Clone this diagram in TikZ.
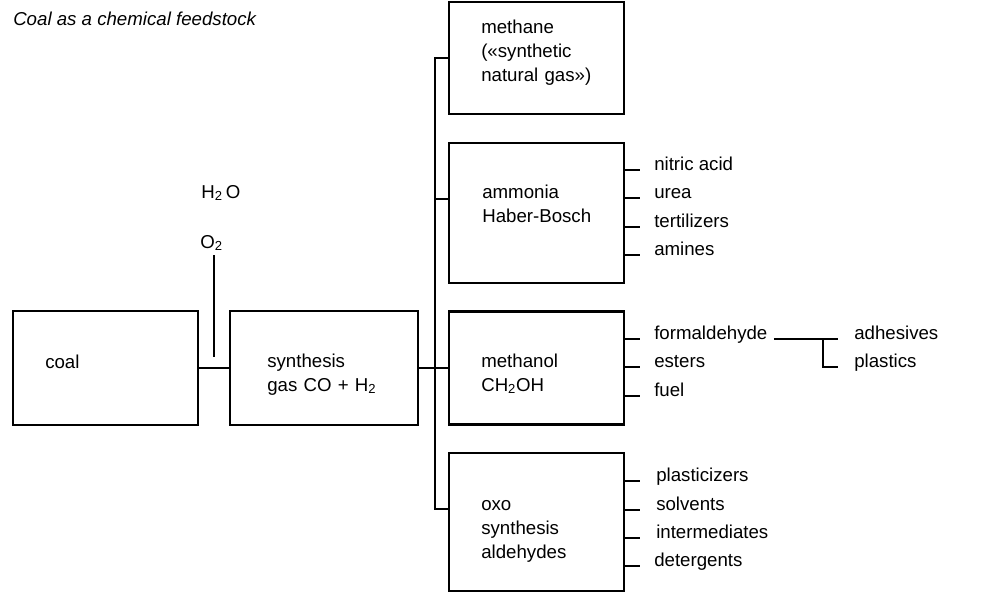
\documentclass[tikz,border=0pt]{standalone}
\usepackage{fontspec}
\setmainfont{Liberation Sans}
\usepackage{tikz}

\begin{document}
\begin{tikzpicture}[x=0.75pt,y=0.75pt,yscale=-1,xscale=1,
  line width=1.9pt,
  box/.style={draw,rectangle,minimum width=#1,inner sep=0pt},
  boxtxt/.style={anchor=base west,inner sep=0pt,text width=140pt,align=left,font=\fontsize{14}{18}\selectfont},
  item/.style={anchor=base west,inner sep=0pt,font=\fontsize{14}{18}\selectfont}]
\path[use as bounding box] (0,0) rectangle (992,594);

%Title
\node[item,font=\fontsize{14}{18}\selectfont\itshape] (title) at (12,25) {Coal as a chemical feedstock};

%Shape: Rectangle [id:coal]
\node[box=185*0.75pt,minimum height=114*0.75pt] (coal) at (105.5,368) {};
\node[boxtxt] (coaltxt) at (44,368) {coal};
%Shape: Rectangle [id:synth]
\node[box=188*0.75pt,minimum height=114*0.75pt] (synth) at (324,368) {};
\node[boxtxt] (synthtxt) at (266,367) {synthesis\\gas CO + H\textsubscript{2}};

%Feed H2O / O2
\node[item] (h2o) at (200,198) {H\textsubscript{2}\,O};
\node[item] (o2) at (199,248) {O\textsubscript{2}};
\coordinate (feed) at (214,357);
\draw (o2.south -| feed) ++(0,3) -- (feed);

%Shape: Rectangle [id:methane]
\node[box=175*0.75pt,minimum height=112*0.75pt] (methane) at (536.5,58) {};
\node[boxtxt] (methanetxt) at (480,33) {methane\\(«synthetic\\natural gas»)};
%Shape: Rectangle [id:ammonia]
\node[box=175*0.75pt,minimum height=140*0.75pt] (ammonia) at (536.5,213) {};
\node[boxtxt] (ammoniatxt) at (481,198) {ammonia\\Haber-Bosch};
%Shape: Rectangle [id:methanol]
\node[box=175*0.75pt,minimum height=113*0.75pt] (methanol) at (536.5,368) {};
\node[boxtxt] (methanoltxt) at (480,367) {methanol\\CH\textsubscript{2}OH};
%Shape: Rectangle [id:oxo]
\node[box=175*0.75pt,minimum height=138*0.75pt] (oxo) at (536.5,522) {};
\node[boxtxt] (oxotxt) at (480,510) {oxo\\synthesis\\aldehydes};

%Straight Lines [main chain]
\draw (coal.east) -- (synth.west);
\draw (synth.east) -- (methanol.west);
\coordinate (j1) at (435,199);
\coordinate (j2) at (435,509);
\draw (methane.west) -| (j2) -- (j2 -| oxo.west);
\draw (j1) -- (j1 -| ammonia.west);

%Products of ammonia
\node[item] (nitric) at (653,170) {nitric acid};
\node[item] (urea) at (653,198) {urea};
\node[item] (fert) at (653,227) {tertilizers};
\node[item] (amines) at (653,255) {amines};
\draw (ammonia.east |- nitric.base west) -- ([xshift=-10pt]nitric.base west);
\draw (ammonia.east |- urea.base west) -- ([xshift=-10pt]urea.base west);
\draw (ammonia.east |- fert.base west) -- ([xshift=-10pt]fert.base west);
\draw (ammonia.east |- amines.base west) -- ([xshift=-10pt]amines.base west);

%Products of methanol
\node[item] (formald) at (653,339) {formaldehyde};
\node[item] (esters) at (653,367) {esters};
\node[item] (fuel) at (653,396) {fuel};
\draw (methanol.east |- formald.base west) -- ([xshift=-10pt]formald.base west);
\draw (methanol.east |- esters.base west) -- ([xshift=-10pt]esters.base west);
\draw (methanol.east |- fuel.base west) -- ([xshift=-10pt]fuel.base west);
\node[item] (adhes) at (853,339) {adhesives};
\node[item] (plast) at (853,367) {plastics};
\draw ([xshift=4pt]formald.base east) -- ([xshift=-11pt]adhes.base west);
\draw ([xshift=-22.5pt]adhes.base west) |- ([xshift=-11pt]plast.base west);

%Products of oxo synthesis
\node[item] (plastic) at (655,481) {plasticizers};
\node[item] (solv) at (655,510) {solvents};
\node[item] (interm) at (655,538) {intermediates};
\node[item] (deterg) at (653,566) {detergents};
\draw (oxo.east |- plastic.base west) -- ([xshift=-11pt]plastic.base west);
\draw (oxo.east |- solv.base west) -- ([xshift=-11pt]solv.base west);
\draw (oxo.east |- interm.base west) -- ([xshift=-11pt]interm.base west);
\draw (oxo.east |- deterg.base west) -- ([xshift=-10pt]deterg.base west);

\end{tikzpicture}
\end{document}
